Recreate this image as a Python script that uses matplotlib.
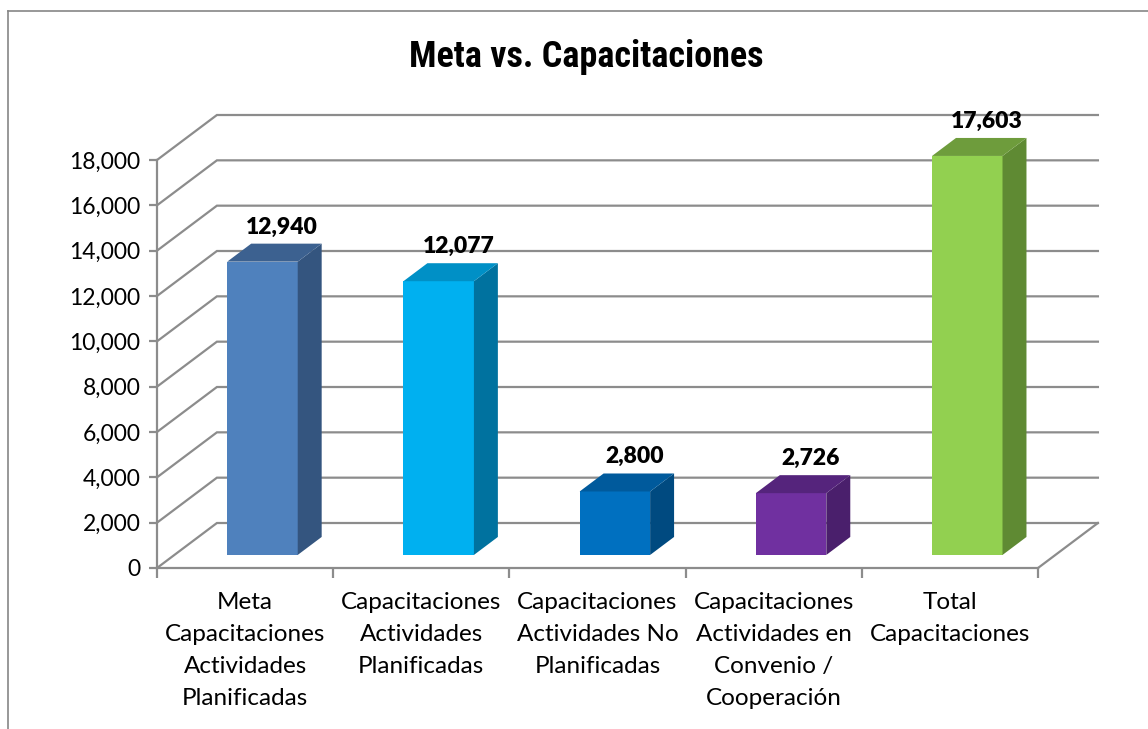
import matplotlib.pyplot as plt
from matplotlib.patches import Polygon
from matplotlib.lines import Line2D

# data
categories = [
    "Meta\nCapacitaciones\nActividades\nPlanificadas",
    "Capacitaciones\nActividades\nPlanificadas",
    "Capacitaciones\nActividades No\nPlanificadas",
    "Capacitaciones\nActividades en\nConvenio /\nCooperación",
    "Total\nCapacitaciones",
]
values = [12940, 12077, 2800, 2726, 17603]
front_colors = ["#4F81BD", "#00B0F0", "#0070C0", "#7030A0", "#92D050"]
side_colors = ["#34557F", "#00729F", "#004A80", "#4A1F6C", "#5F8A33"]
top_colors = ["#3C6190", "#0090C6", "#005A9C", "#55247C", "#6E9C3C"]
yticks = list(range(0, 18001, 2000))

# fake 3-d depth (one full unit of depth, in data units)
DX = 0.34
DY = 1985
GRID = "#8C8C8C"
D0, D1 = 0.29, 0.69   # bar front / back depth
BAR_W = 0.4

plt.rcParams["font.family"] = ["Lato", "DejaVu Sans"]

fig = plt.figure(figsize=(11.48, 7.29), dpi=100)
ax = fig.add_axes([157 / 1148, (729 - 568) / 729, (1038 - 157) / 1148, (568 - 160) / 729])
ax.set_xlim(0, len(values))
ax.set_ylim(0, 18000)

n = len(values)

# back wall gridlines + left wall diagonals
for v in yticks:
    ax.plot([0, DX, n + DX], [v, v + DY, v + DY], color=GRID, lw=1.6,
            clip_on=False, zorder=1, solid_joinstyle="miter")
# floor right edge
ax.plot([n, n + DX], [0, DY], color=GRID, lw=1.6, clip_on=False, zorder=1)

# bars: front face with ax.bar, side and top as polygons
centers = [i + 0.5 for i in range(n)]
ax.bar([c + D0 * DX for c in centers], values, bottom=D0 * DY, width=BAR_W,
       color=front_colors, zorder=3, clip_on=False)
for c, v, sc, tc in zip(centers, values, side_colors, top_colors):
    xl = c - BAR_W / 2
    xr = c + BAR_W / 2
    side = [(xr + D0 * DX, D0 * DY), (xr + D1 * DX, D1 * DY),
            (xr + D1 * DX, v + D1 * DY), (xr + D0 * DX, v + D0 * DY)]
    top = [(xl + D0 * DX, v + D0 * DY), (xr + D0 * DX, v + D0 * DY),
           (xr + D1 * DX, v + D1 * DY), (xl + D1 * DX, v + D1 * DY)]
    ax.add_patch(Polygon(side, closed=True, facecolor=sc, edgecolor="none",
                         zorder=3, clip_on=False))
    ax.add_patch(Polygon(top, closed=True, facecolor=tc, edgecolor="none",
                         zorder=3, clip_on=False))
    ax.annotate(f"{v:,}", (c + 0.62 * DX, v + D1 * DY), xytext=(0, 12),
                textcoords="offset points", ha="center", va="center",
                fontsize=16.5, fontweight="heavy", color="black", zorder=4,
                annotation_clip=False)

# axes styling
for s in ["top", "right"]:
    ax.spines[s].set_visible(False)
for s in ["left", "bottom"]:
    ax.spines[s].set_color(GRID)
    ax.spines[s].set_linewidth(1.6)
    ax.spines[s].set_zorder(2)

ax.set_yticks(yticks)
ax.set_yticklabels([f"{t:,}" for t in yticks])
ax.tick_params(axis="y", length=6, width=1.6, color=GRID, labelsize=16.5, pad=6)

ax.set_xticks(range(n + 1))
ax.set_xticklabels([])
ax.set_xticks(centers, minor=True)
ax.set_xticklabels(categories, minor=True, linespacing=1.65)
ax.tick_params(axis="x", which="major", length=7, width=1.6, color=GRID)
ax.tick_params(axis="x", which="minor", length=0, labelsize=17.5, pad=17)
ax.set_facecolor("none")

fig.text(586 / 1148, 1 - 57 / 729, "Meta vs. Capacitaciones", ha="center", va="center",
         fontsize=26, fontweight="bold",
         family=["Liberation Sans Narrow", "Roboto Condensed", "Open Sans Condensed",
                 "Roboto", "DejaVu Sans"])

# outer chart frame
fig.add_artist(Line2D([8 / 1148, 8 / 1148], [0, 1 - 11 / 729], color="#868686", lw=1.2))
fig.add_artist(Line2D([8 / 1148, 1], [1 - 11 / 729, 1 - 11 / 729], color="#868686", lw=1.2))

fig.savefig("out.png", dpi=100)
